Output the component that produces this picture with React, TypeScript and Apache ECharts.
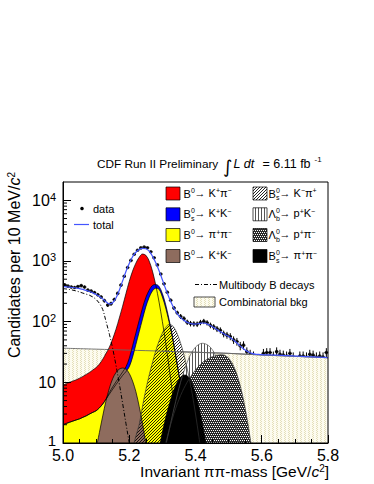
import React, { useEffect, useRef } from 'react';
import * as echarts from 'echarts';

const FONT = '"Liberation Sans", Arial, Helvetica, sans-serif';

// ---- axes ----
const xMin = 5.0;
const xMax = 5.8;
const xInterval = 0.2;
const yMin = 1;
const yMax = 20000;
const binWidth = 0.01;

// ---- data (candidates per 10 MeV, bin centres from 5.005) ----
const dataStart = 5.005;
const dataCounts = [
  405, 385, 372, 365, 380, 392, 372, 330, 318, 302,
  278, 255, 222, 188, 198, 232, 292, 400, 560, 780,
  1020, 1290, 1500, 1640, 1690, 1650, 1420, 1130, 860, 610,
  420, 305, 225, 168, 140, 122, 112, 98, 93, 92,
  91, 97, 101, 96, 87, 82, 76, 72, 63, 60,
  57, 50, 47, 40, 41, 32, 29, 27, 18, 21,
  30, 31, 31, 27, 32, 29, 28, 27, 30, 26,
  21, 27, 27, 26, 29, 28, 26, 27, 26, 31,
];

// ---- fit: total (5.00 .. 5.80) ----
const totalStart = 5.0;
const totalValues = [
  380, 375, 370, 365, 358, 350, 340, 327, 313, 297,
  280, 260, 237, 212, 196, 205, 245, 330, 470, 670,
  910, 1170, 1390, 1540, 1610, 1590, 1450, 1200, 930, 690,
  490, 345, 250, 188, 148, 124, 110, 101, 95, 92,
  91, 93, 95, 94, 89, 83, 77, 71, 66, 61,
  57, 52, 47, 42, 37.5, 34, 31.5, 30, 29.2, 28.8,
  28.5, 28.4, 28.3, 28.2, 28.1, 28.0, 27.8, 27.6, 27.5, 27.3,
  27.1, 27.0, 26.8, 26.6, 26.5, 26.3, 26.2, 26.0, 25.9, 25.7,
  25.6,
];

// ---- components ----
const combMass = [5.0, 5.1, 5.2, 5.3, 5.4, 5.5, 5.6, 5.7, 5.8];
const combValues = [36.5, 35.2, 33.9, 32.6, 31.3, 30.0, 28.2, 26.8, 25.4];

const multibodyStart = 5.0;
const multibodyValues = [350, 345, 338, 330, 320, 308, 295, 284, 272, 255, 232, 200, 158, 100, 62, 36, 19, 9.5, 4.5, 2.1, 1.0, 0.45];

const b0KpiStart = 5.0;
const b0KpiValues = [9, 9.5, 10, 10.5, 11, 11.7, 12.5, 13.5, 14.5, 16, 17.5, 20, 24, 30, 38, 52, 75, 115, 180, 290, 460, 680, 920, 1150, 1300, 1240, 1000, 680, 400, 210, 100, 45, 18, 7, 2.5, 0.9, 0.3];

const bsKKStart = 5.0;
const bsKKValues = [2.0, 2.1, 2.2, 2.3, 2.4, 2.5, 2.65, 2.8, 3.0, 3.2, 3.4, 3.8, 4.4, 5.3, 6.8, 8.4, 10.2, 12.3, 14.8, 18, 25, 40, 65, 105, 168, 250, 330, 395, 410, 380, 290, 190, 110, 59, 28.5, 13.5, 6.2, 2.8, 1.25, 0.5];

const b0pipiStart = 5.0;
const b0pipiValues = [2.0, 2.1, 2.2, 2.3, 2.4, 2.5, 2.65, 2.8, 3.0, 3.2, 3.4, 3.8, 4.4, 5.3, 6.4, 7.7, 9.2, 11, 13, 15, 18, 26, 42, 68, 110, 175, 250, 320, 355, 340, 255, 168, 100, 56, 27, 13, 6, 2.7, 1.2, 0.5];

const b0KKStart = 5.1;
const b0KKValues = [0.8, 1.5, 2.8, 5, 8, 11.5, 14.5, 16.5, 17.2, 16.5, 14, 10.5, 7, 4, 2.1, 1.0, 0.45];

const bsKpiStart = 5.2;
const bsKpiValues = [0.5, 0.8, 1.3, 2.0, 4.0, 7.5, 13, 21, 33, 48, 65, 80, 90, 86, 72, 53, 36, 22, 12.5, 6.5, 3, 1.3, 0.5];

const lbpKStart = 5.3;
const lbpKValues = [0.5, 0.9, 1.6, 2.8, 4.8, 8, 12.5, 18, 25, 32, 38, 42, 44, 43, 40, 35, 28, 21, 14.5, 9.5, 6, 3.5, 2, 1.1, 0.6];

const lbppiStart = 5.3;
const lbppiValues = [0.6, 1.0, 1.6, 2.5, 3.7, 5.2, 7, 9, 11.2, 13.5, 16, 18.5, 21, 23, 24.8, 26.3, 27.5, 28.3, 28.5, 27.5, 25, 21, 16, 11, 6.8, 3.7, 1.8, 0.8, 0.35];

const bspipiStart = 5.28;
const bspipiValues = [0.4, 0.8, 1.5, 2.6, 4.2, 6.3, 8.8, 11.2, 12.8, 13.2, 12, 9.5, 6.5, 4, 2.2, 1.1, 0.5];

const toXY = (start: number, vals: number[]) =>
  vals.map((v, i) => [+(start + i * binWidth).toFixed(3), v]);

function makePattern(w: number, h: number, draw: (ctx: CanvasRenderingContext2D) => void) {
  const c = document.createElement('canvas');
  c.width = w;
  c.height = h;
  const ctx = c.getContext('2d') as CanvasRenderingContext2D;
  draw(ctx);
  return { image: c.toDataURL(), repeat: 'repeat', imageWidth: w, imageHeight: h } as any;
}

export default function App() {
  const ref = useRef<HTMLDivElement>(null);

  useEffect(() => {
    if (!ref.current) return;
    const chart = echarts.init(ref.current, null, { renderer: 'svg' });

    const diagPattern = makePattern(3, 3, (ctx) => {
      ctx.fillStyle = 'rgba(0,0,0,0.85)';
      ctx.fillRect(0, 2, 1, 1);
      ctx.fillRect(1, 1, 1, 1);
      ctx.fillRect(2, 0, 1, 1);
    });
    const vertPattern = makePattern(3, 1, (ctx) => {
      ctx.fillStyle = '#ffffff';
      ctx.fillRect(0, 0, 3, 1);
      ctx.fillStyle = '#555555';
      ctx.fillRect(0, 0, 1, 1);
    });
    const checkPattern = makePattern(4, 4, (ctx) => {
      ctx.fillStyle = '#2a2a2a';
      ctx.fillRect(0, 0, 4, 4);
      ctx.fillStyle = '#ffffff';
      ctx.fillRect(0, 0, 1, 1);
      ctx.fillRect(2, 0, 1, 1);
      ctx.fillRect(1, 2, 1, 1);
      ctx.fillRect(3, 2, 1, 1);
    });
    const combPattern = makePattern(4, 4, (ctx) => {
      ctx.fillStyle = '#fdfcef';
      ctx.fillRect(0, 0, 4, 4);
      ctx.fillStyle = '#e4dfba';
      ctx.fillRect(0, 0, 1, 1);
      ctx.fillRect(1, 1, 1, 1);
      ctx.fillRect(0, 2, 1, 1);
      ctx.fillRect(1, 3, 1, 1);
    });

    const yMinorTicks: number[] = [];
    for (let d = 1; d < yMax; d *= 10) {
      for (let k = 2; k <= 9; k++) if (k * d < yMax) yMinorTicks.push(k * d);
    }

    const areaSeries = (name: string, data: number[][], fill: any, stroke = '#000', lw = 0.7) => ({
      name,
      type: 'line',
      data,
      smooth: 0.35,
      symbol: 'none',
      silent: true,
      lineStyle: { color: stroke, width: lw },
      areaStyle: { color: fill, opacity: 1, origin: 'start' },
    });

    const supRich = {
      u: { fontSize: 7, fontFamily: FONT, verticalAlign: 'top', lineHeight: 9, fill: '#000' },
    };

    const decayLabel = (x: number, y: number, head: string, sup: string, sub: string, rest: string) => {
      const els: any[] = [
        { type: 'text', x, y, style: { text: head, font: `11px ${FONT}`, fill: '#000', textVerticalAlign: 'middle' } },
        { type: 'text', x: x + 7.6, y: y - 3.5, style: { text: sup, font: `7px ${FONT}`, fill: '#000', textVerticalAlign: 'middle' } },
        { type: 'text', x: x + 11, y: y - 1, style: { text: rest, font: `11px ${FONT}`, fill: '#000', textVerticalAlign: 'middle', rich: supRich } },
      ];
      if (sub) els.push({ type: 'text', x: x + 7.6, y: y + 4, style: { text: sub, font: `7px ${FONT}`, fill: '#000', textVerticalAlign: 'middle' } });
      return els;
    };

    const swatch = (x: number, y: number, fill: any) => ({
      type: 'rect',
      shape: { x, y: y - 6.5, width: 14, height: 13 },
      style: { fill, stroke: '#000', lineWidth: 0.7 },
    });

    const rows = [193.5, 214.3, 235, 256];
    const lx = 166;
    const rx = 253;

    const graphics: any[] = [
      // frame
      { type: 'rect', z: 100, shape: { x: 63, y: 182, width: 265, height: 261 }, style: { fill: 'none', stroke: '#000', lineWidth: 1 } },
      // title
      { type: 'text', x: 97, y: 164, style: { text: 'CDF Run II Preliminary', font: `11.8px ${FONT}`, fill: '#000', textVerticalAlign: 'middle' } },
      { type: 'text', x: 223, y: 166, style: { text: '∫', font: `18px "DejaVu Sans", ${FONT}`, fill: '#000', textVerticalAlign: 'middle' } },
      { type: 'text', x: 233.5, y: 164, style: { text: 'L dt', font: `italic 12.5px ${FONT}`, fill: '#000', textVerticalAlign: 'middle' } },
      { type: 'text', x: 262.5, y: 164, style: { text: '= 6.11 fb', font: `12.5px ${FONT}`, fill: '#000', textVerticalAlign: 'middle' } },
      { type: 'text', x: 314.5, y: 159.5, style: { text: '-1', font: `8px ${FONT}`, fill: '#000', textVerticalAlign: 'middle' } },
      // axis titles
      {
        type: 'text', x: 329, y: 471,
        style: {
          text: 'Invariant ππ-mass [GeV/{i|c}{u|2}]', font: `15.5px ${FONT}`, fill: '#000',
          textAlign: 'right', textVerticalAlign: 'middle',
          rich: { i: { fontSize: 15.5, fontStyle: 'italic', fontFamily: FONT }, u: { fontSize: 10, fontFamily: FONT, verticalAlign: 'top', lineHeight: 11 } },
        },
      },
      {
        type: 'text', x: 14, y: 172, rotation: Math.PI / 2,
        style: {
          text: 'Candidates per 10 MeV/{i|c}{u|2}', font: `16px ${FONT}`, fill: '#000',
          textAlign: 'right', textVerticalAlign: 'middle',
          rich: { i: { fontSize: 16, fontStyle: 'italic', fontFamily: FONT }, u: { fontSize: 10, fontFamily: FONT, verticalAlign: 'top', lineHeight: 11 } },
        },
      },
      // legend 1
      { type: 'circle', shape: { cx: 82, cy: 208.5, r: 1.8 }, style: { fill: '#000' } },
      { type: 'text', x: 93, y: 208.5, style: { text: 'data', font: `11px ${FONT}`, fill: '#000', textVerticalAlign: 'middle' } },
      { type: 'line', shape: { x1: 74, y1: 224.5, x2: 89, y2: 224.5 }, style: { stroke: '#4455ff', lineWidth: 1.2 } },
      { type: 'text', x: 93, y: 224.5, style: { text: 'total', font: `11px ${FONT}`, fill: '#000', textVerticalAlign: 'middle' } },
      // legend 2 swatches
      swatch(lx, rows[0], '#ff0000'),
      swatch(lx, rows[1], '#0000ff'),
      swatch(lx, rows[2], '#ffff00'),
      swatch(lx, rows[3], '#8e6c5e'),
      swatch(rx, rows[0], diagPattern),
      swatch(rx, rows[1], vertPattern),
      swatch(rx, rows[2], checkPattern),
      swatch(rx, rows[3], '#000000'),
      ...decayLabel(lx + 17.5, rows[0], 'B', '0', '', '→ K{u|+}π{u|−}'),
      ...decayLabel(lx + 17.5, rows[1], 'B', '0', 's', '→ K{u|+}K{u|−}'),
      ...decayLabel(lx + 17.5, rows[2], 'B', '0', '', '→ π{u|+}π{u|−}'),
      ...decayLabel(lx + 17.5, rows[3], 'B', '0', '', '→ K{u|+}K{u|−}'),
      ...decayLabel(rx + 15.5, rows[0], 'B', '0', 's', '→ K{u|−}π{u|+}'),
      ...decayLabel(rx + 15.5, rows[1], 'Λ', '0', 'b', '→ p{u|+}K{u|−}'),
      ...decayLabel(rx + 15.5, rows[2], 'Λ', '0', 'b', '→ p{u|+}π{u|−}'),
      ...decayLabel(rx + 15.5, rows[3], 'B', '0', 's', '→ π{u|+}π{u|−}'),
      { type: 'polyline', shape: { points: [[195, 284.5], [217, 284.5]] }, style: { stroke: '#000', lineWidth: 1, lineDash: [4, 2, 1, 2], fill: 'none' } },
      { type: 'text', x: 219, y: 284.5, style: { text: 'Multibody B decays', font: `11px ${FONT}`, fill: '#000', textVerticalAlign: 'middle' } },
      { type: 'rect', shape: { x: 194, y: 297, width: 21, height: 10 }, style: { fill: combPattern, stroke: '#000', lineWidth: 0.7 } },
      { type: 'text', x: 219, y: 302, style: { text: 'Combinatorial bkg', font: `11px ${FONT}`, fill: '#000', textVerticalAlign: 'middle' } },
    ];

    const combData = combMass.map((m, i) => [m, combValues[i]]);

    const option: any = {
      animation: false,
      backgroundColor: '#ffffff',
      grid: {
        left: 63, top: 182, width: 265, height: 261,
        show: false, containLabel: false, outerBoundsMode: 'none',
      },
      xAxis: {
        type: 'value', min: xMin, max: xMax, interval: xInterval, z: 10,
        axisLine: { show: true, lineStyle: { color: '#000', width: 1 } },
        axisTick: { show: true, inside: true, length: 8, lineStyle: { color: '#000', width: 1 } },
        minorTick: { show: true, splitNumber: 4, length: 4, lineStyle: { color: '#000', width: 1 } },
        axisLabel: {
          formatter: (v: number) => v.toFixed(1), fontSize: 16, fontFamily: FONT, color: '#000', margin: 4,
        },
        splitLine: { show: false },
        minorSplitLine: { show: false },
      },
      yAxis: {
        type: 'log', logBase: 10, min: yMin, max: yMax, z: 10,
        axisLine: { show: true, lineStyle: { color: '#000', width: 1 } },
        axisTick: { show: true, inside: true, length: 8, lineStyle: { color: '#000', width: 1 } },
        minorTick: { show: false },
        axisLabel: {
          margin: 7,
          showMaxLabel: false,
          formatter: (v: number) => {
            const lg = Math.log10(v);
            const e = Math.round(lg);
            if (Math.abs(lg - e) > 0.01) return '';
            if (e === 0) return '{one|1}';
            if (e === 1) return '{b|10}';
            return `{b|10}{s|${e}}`;
          },
          rich: {
            one: { fontSize: 15, fontFamily: FONT, color: '#000', lineHeight: 15, padding: [0, 0, 5, 0] },
            b: { fontSize: 16, fontFamily: FONT, color: '#000', lineHeight: 18 },
            s: { fontSize: 11, fontFamily: FONT, color: '#000', verticalAlign: 'top', lineHeight: 11 },
          },
        },
        splitLine: { show: false },
      },
      graphic: graphics,
      series: [
        areaSeries('Combinatorial bkg', combData, combPattern, '#666', 0.9),
        areaSeries('B0->K+pi-', toXY(b0KpiStart, b0KpiValues), '#ff0000'),
        areaSeries('Bs->K+K-', toXY(bsKKStart, bsKKValues), '#0000ff'),
        areaSeries('B0->pi+pi-', toXY(b0pipiStart, b0pipiValues), '#ffff00'),
        areaSeries('B0->K+K-', toXY(b0KKStart, b0KKValues), '#8e6c5e'),
        areaSeries('Bs->K-pi+', toXY(bsKpiStart, bsKpiValues), diagPattern, '#333'),
        areaSeries('Lb->pK', toXY(lbpKStart, lbpKValues), vertPattern, '#555'),
        areaSeries('Lb->ppi', toXY(lbppiStart, lbppiValues), checkPattern, '#333'),
        areaSeries('Bs->pi+pi-', toXY(bspipiStart, bspipiValues), '#000000'),
        {
          name: 'comb line', type: 'line', data: combData.filter((p) => p[0] >= 5.3), symbol: 'none', silent: true,
          lineStyle: { color: '#666', width: 0.9 },
        },
        {
          name: 'Multibody B decays', type: 'line', data: toXY(multibodyStart, multibodyValues), smooth: 0.35,
          symbol: 'none', silent: true, lineStyle: { color: '#000', width: 1, type: [4, 2, 1, 2] },
        },
        {
          name: 'total', type: 'line', data: toXY(totalStart, totalValues), smooth: 0.35,
          symbol: 'none', silent: true, lineStyle: { color: '#4455ff', width: 1.2 },
        },
        {
          name: 'errors', type: 'custom', silent: true,
          data: toXY(dataStart, dataCounts),
          renderItem: (params: any, api: any) => {
            const x = api.value(0);
            const y = api.value(1);
            const e = Math.sqrt(y);
            const top = api.coord([x, y + e]);
            const bot = api.coord([x, Math.max(y - e, 0.5)]);
            const l = api.coord([x - binWidth / 2, y]);
            const r = api.coord([x + binWidth / 2, y]);
            return {
              type: 'group',
              children: [
                { type: 'line', shape: { x1: top[0], y1: top[1], x2: bot[0], y2: bot[1] }, style: { stroke: '#000', lineWidth: 1 } },
                { type: 'line', shape: { x1: l[0], y1: l[1], x2: r[0], y2: r[1] }, style: { stroke: '#000', lineWidth: 1 } },
              ],
            };
          },
        },
        {
          name: 'data', type: 'scatter', data: toXY(dataStart, dataCounts), symbol: 'circle', symbolSize: 3.6,
          silent: true, itemStyle: { color: '#000' },
        },
        {
          name: 'y minor ticks', type: 'custom', silent: true, z: 10,
          data: yMinorTicks.map((v) => [xMin, v]),
          renderItem: (params: any, api: any) => {
            const p = api.coord([api.value(0), api.value(1)]);
            return { type: 'line', shape: { x1: p[0], y1: p[1], x2: p[0] + 4, y2: p[1] }, style: { stroke: '#000', lineWidth: 1 } };
          },
        },
      ],
    };

    chart.setOption(option);
    return () => chart.dispose();
  }, []);

  return <div ref={ref} style={{ position: 'absolute', left: 0, top: 0, width: 374, height: 484 }} />;
}
